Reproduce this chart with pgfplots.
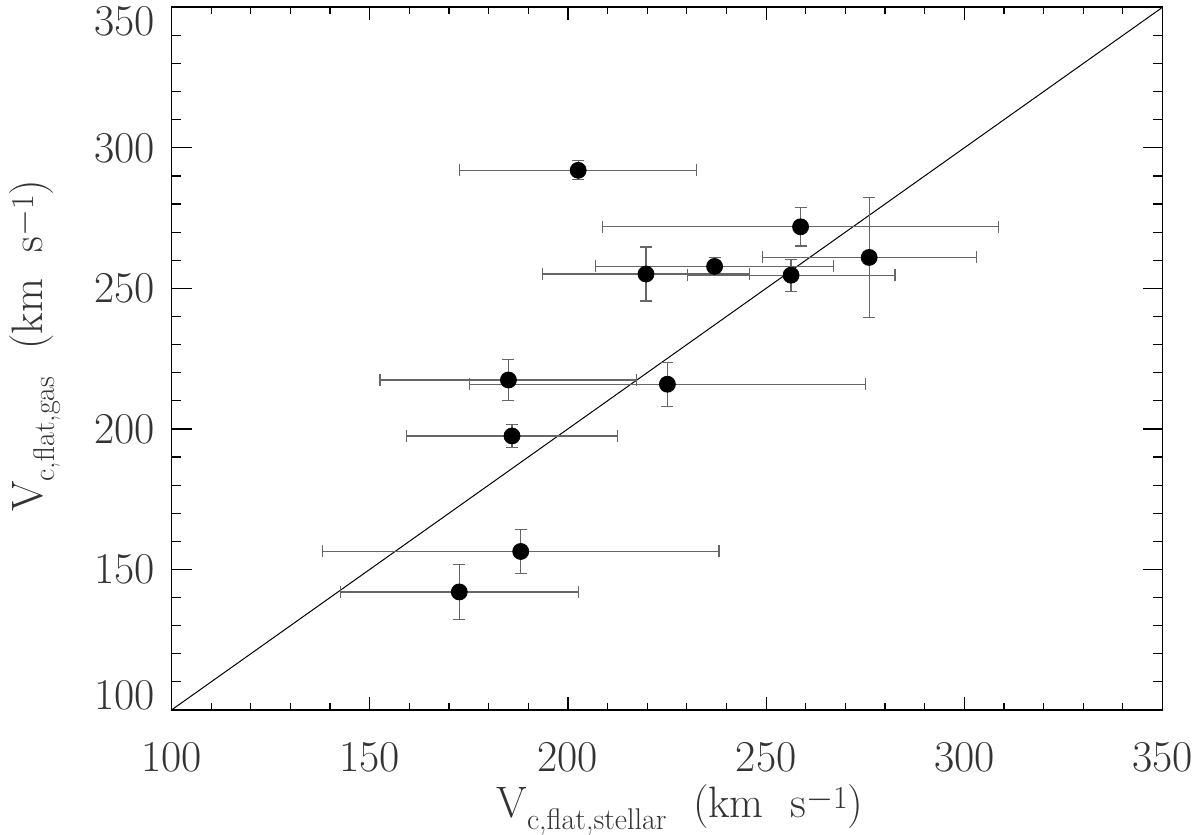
\documentclass[border=0pt]{standalone}
\usepackage{pgfplots}
\pgfplotsset{compat=1.18}
\usepackage{pgfplotstable}
\pgfplotstableread{
x y ex ey
202.6 292.0 29.9 3.4
258.7 271.9 49.9 6.8
276.0 261.0 27.0 21.4
237.0 257.8 30.0 3.1
219.7 255.1 26.2 9.6
256.3 254.7 26.2 5.7
185.0 217.4 32.4 7.4
225.1 215.9 50.0 7.8
185.9 197.5 26.6 4.2
188.1 156.4 50.0 7.8
172.6 142.0 30.0 9.8
}\datatable
\newcommand\sub[1]{\raisebox{-6pt}{\fontsize{15}{18}\selectfont #1}}
\newcommand\sups[1]{\raisebox{4.5pt}{\fontsize{16}{18}\selectfont #1}}
\begin{document}
\begin{tikzpicture}
\useasboundingbox (0,0) rectangle (600pt,417.5pt);
\begin{axis}[
  at={(85.75pt,62.5pt)}, anchor=south west,
  scale only axis, width=495.5pt, height=351.35pt,
  xmin=100, xmax=350, ymin=100, ymax=350,
  xtick={100,150,...,350}, ytick={100,150,...,350},
  minor x tick num=4, minor y tick num=4,
  tick align=inside,
  axis line style={line width=0.8pt},
  every tick/.style={black, line width=0.6pt},
  major tick length=8pt, minor tick length=4pt,
  xtick style={/pgfplots/major tick length=6.5pt,/pgfplots/minor tick length=3.5pt},
  ytick style={/pgfplots/major tick length=10pt,/pgfplots/minor tick length=5pt},
  ticklabel style={font=\fontsize{22}{26}\selectfont, text=black!80},
  xticklabel style={inner sep=0pt, anchor=north, yshift=-16pt},
  yticklabel style={inner sep=0pt, anchor=east, xshift=-8.25pt},
  xticklabels={100,150,200,250,300,350},
  yticklabels={\smash{100},150,200,250,300,\smash{\raisebox{-14.2pt}{350}}},
  every axis x label/.style={at={([yshift=-54pt,xshift=6.5pt]axis description cs:0.5,0)}, anchor=base, inner sep=0pt, font=\fontsize{22}{26}\selectfont, text=black!80},
  every axis y label/.style={at={([xshift=-64.25pt,yshift=6.5pt]axis description cs:0,0.5)}, rotate=90, anchor=base, inner sep=0pt, font=\fontsize{22}{26}\selectfont, text=black!80},
  xlabel={V\sub{c,flat,stellar}\ \ (km\ \ s\sups{$-$1})},
  ylabel={V\sub{c,flat,gas}\ \ (km\ \ s\sups{$-$1})},
  clip=false,
]
\addplot[black, line width=0.5pt] coordinates {(100,100) (350,350)};
\addplot[only marks, mark=*, mark size=4pt, black,
  error bars/.cd,
    x dir=both, x explicit, y dir=both, y explicit,
    error bar style={black!60, line width=0.6pt},
    error mark options={rotate=90, mark size=3pt, black!60, line width=0.6pt},
] table[x=x, y=y, x error=ex, y error=ey] {\datatable};
\end{axis}
\end{tikzpicture}
\end{document}
